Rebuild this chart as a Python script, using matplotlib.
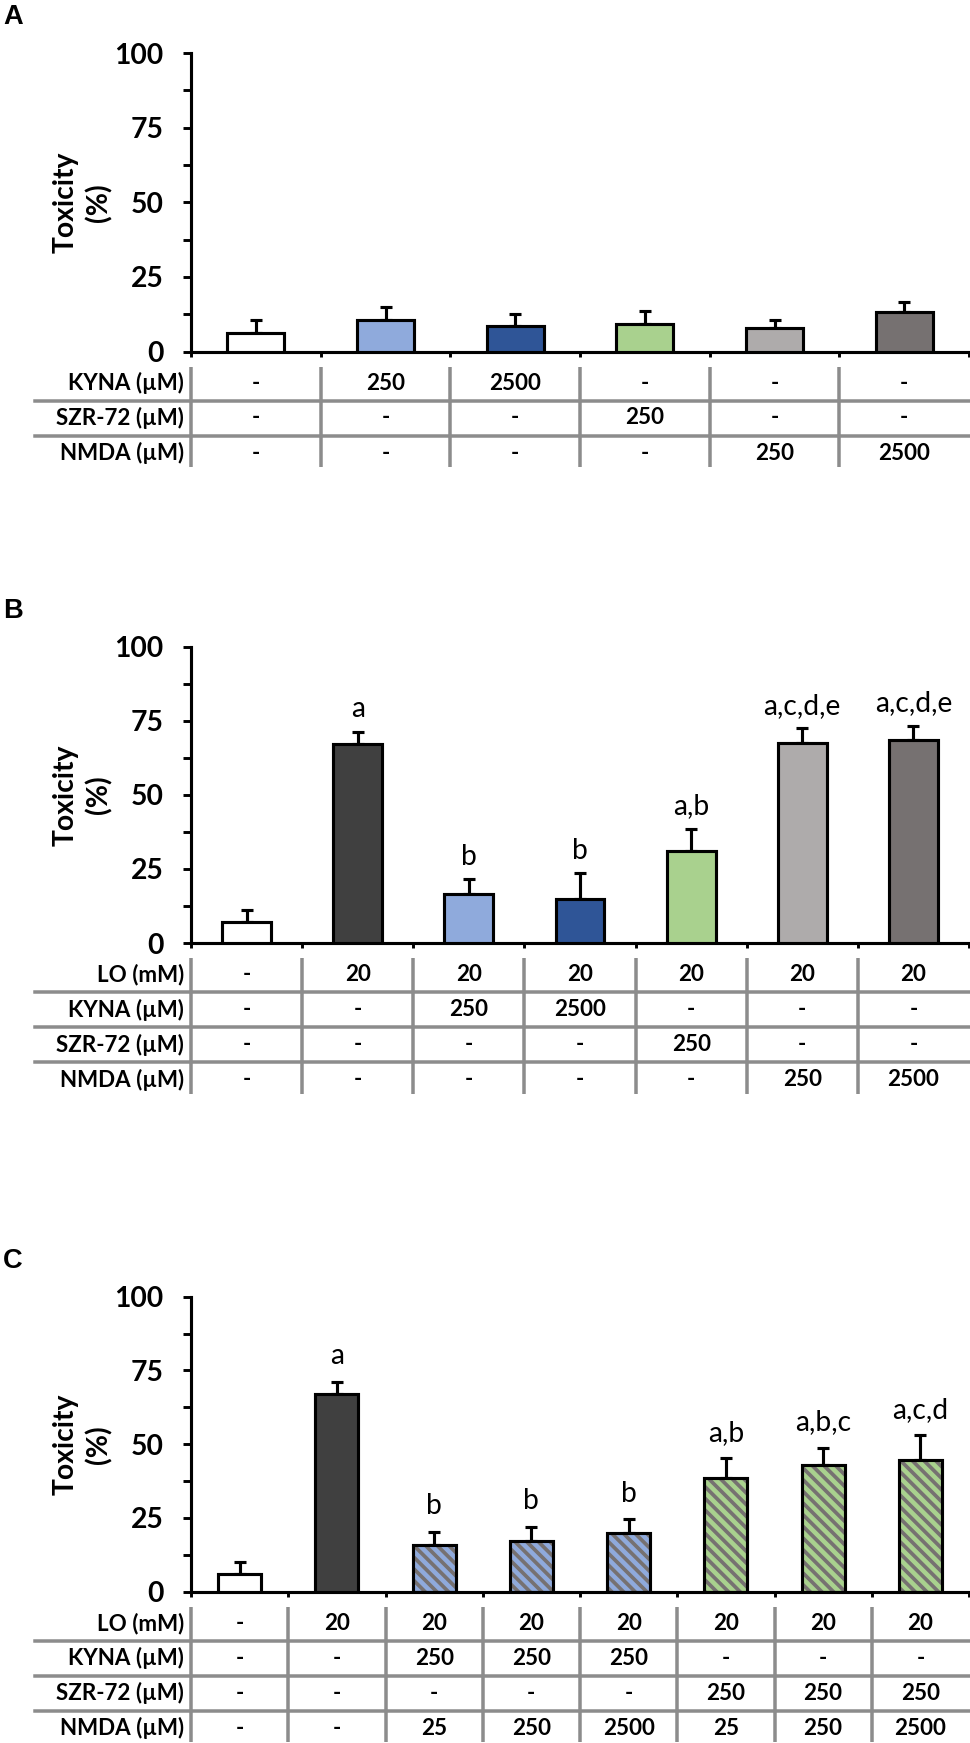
import matplotlib
matplotlib.use("Agg")
import matplotlib.pyplot as plt
import numpy as np
from matplotlib.transforms import blended_transform_factory

W, H, DPI = 970, 1743, 140

plt.rcParams["font.family"] = ["Lato", "DejaVu Sans"]
plt.rcParams["hatch.linewidth"] = 1.9

WHITE = "#FFFFFF"
LO_DARK = "#404040"
KYNA_LIGHT = "#8FAADC"
KYNA_DARK = "#2F5597"
SZR_GREEN = "#A9D18E"
NMDA_LIGHT = "#AEABAB"
NMDA_DARK = "#767171"
STRIPE = "#767171"
GRID_GREY = "#8C8C8C"

# ---- panel A ----
a_values = [6.3, 10.7, 8.7, 9.1, 7.8, 13.4]
a_errors = [4.4, 4.3, 3.8, 4.6, 2.8, 3.1]
a_colors = [WHITE, KYNA_LIGHT, KYNA_DARK, SZR_GREEN, NMDA_LIGHT, NMDA_DARK]
a_hatched = [False] * 6
a_letters = [""] * 6
a_row_labels = ["KYNA (µM)", "SZR-72 (µM)", "NMDA (µM)"]
a_kyna = ["-", "250", "2500", "-", "-", "-"]
a_szr = ["-", "-", "-", "250", "-", "-"]
a_nmda = ["-", "-", "-", "-", "250", "2500"]

# ---- panel B ----
b_values = [7.1, 67.1, 16.6, 14.9, 31.2, 67.4, 68.4]
b_errors = [4.0, 4.1, 4.9, 8.6, 7.3, 5.0, 4.9]
b_colors = [WHITE, LO_DARK, KYNA_LIGHT, KYNA_DARK, SZR_GREEN, NMDA_LIGHT, NMDA_DARK]
b_hatched = [False] * 7
b_letters = ["", "a", "b", "b", "a,b", "a,c,d,e", "a,c,d,e"]
b_row_labels = ["LO (mM)", "KYNA (µM)", "SZR-72 (µM)", "NMDA (µM)"]
b_lo = ["-", "20", "20", "20", "20", "20", "20"]
b_kyna = ["-", "-", "250", "2500", "-", "-", "-"]
b_szr = ["-", "-", "-", "-", "250", "-", "-"]
b_nmda = ["-", "-", "-", "-", "-", "250", "2500"]

# ---- panel C ----
c_values = [6.1, 66.9, 15.9, 17.3, 19.8, 38.6, 43.1, 44.8]
c_errors = [4.1, 4.3, 4.5, 4.8, 4.7, 6.7, 5.7, 8.2]
c_colors = [WHITE, LO_DARK, KYNA_LIGHT, KYNA_LIGHT, KYNA_LIGHT, SZR_GREEN, SZR_GREEN, SZR_GREEN]
c_hatched = [False, False, True, True, True, True, True, True]
c_letters = ["", "a", "b", "b", "b", "a,b", "a,b,c", "a,c,d"]
c_row_labels = ["LO (mM)", "KYNA (µM)", "SZR-72 (µM)", "NMDA (µM)"]
c_lo = ["-", "20", "20", "20", "20", "20", "20", "20"]
c_kyna = ["-", "-", "250", "250", "250", "-", "-", "-"]
c_szr = ["-", "-", "-", "-", "-", "250", "250", "250"]
c_nmda = ["-", "-", "25", "250", "2500", "25", "250", "2500"]

Y_TICKS = [0, 25, 50, 75, 100]
Y_MINOR = [12.5, 37.5, 62.5, 87.5]

ROW_H = 35.0
AX_LEFT, AX_RIGHT = 191, 969


def px_rect(left, top, right, bottom):
    return [left / W, 1 - bottom / H, (right - left) / W, (bottom - top) / H]


def draw_panel(fig, tag, top, bottom, values, errors, colors, hatched, letters,
               row_labels, rows, letter_pad):
    n = len(values)
    x = np.arange(n)

    ax = fig.add_axes(px_rect(AX_LEFT, top, AX_RIGHT, bottom))
    for xi, v, col, hat in zip(x, values, colors, hatched):
        if hat:
            ax.bar(xi, v, width=0.44, color=col, edgecolor=STRIPE, linewidth=0,
                   hatch="\\\\\\\\", zorder=2)
            ax.bar(xi, v, width=0.44, fill=False, edgecolor="black", linewidth=1.6, zorder=3)
        else:
            ax.bar(xi, v, width=0.44, color=col, edgecolor="black", linewidth=1.6, zorder=3)
    ax.errorbar(x, values, yerr=[np.zeros(n), errors], fmt="none", ecolor="black",
                elinewidth=1.6, capsize=3.2, capthick=1.6, zorder=1)

    for xi, v, e, lab in zip(x, values, errors, letters):
        if lab:
            ax.annotate(lab, (xi, v + e), xytext=(0, letter_pad), textcoords="offset points",
                        ha="center", va="baseline", fontsize=14.5)

    ax.set_xlim(-0.5, n - 0.5)
    ax.set_ylim(0, 100)
    ax.set_yticks(Y_TICKS, labels=[str(t) for t in Y_TICKS], fontsize=14.5, fontweight="bold")
    ax.set_yticks(Y_MINOR, minor=True)
    ax.set_xticks(np.arange(n + 1) - 0.5)
    ax.set_xticklabels([])
    ax.tick_params(axis="y", which="both", length=4.2, width=1.5, direction="out", pad=10)
    ax.tick_params(axis="x", length=2.8, width=1.5, direction="out")
    for side in ("top", "right"):
        ax.spines[side].set_visible(False)
    for side in ("left", "bottom"):
        ax.spines[side].set_linewidth(1.6)
    ax.set_ylabel("Toxicity\n(%)", fontsize=14.5, fontweight="bold", labelpad=1,
                  linespacing=1.3)

    fig.text(3 / W, 1 - (top - 29) / H, tag, fontsize=14, fontweight="bold",
             family=["Liberation Sans", "DejaVu Sans"], va="baseline", ha="left")

    # treatment table under the bars
    nrows = len(rows)
    t_top = bottom + 14
    tab = fig.add_axes(px_rect(AX_LEFT, t_top, AX_RIGHT, t_top + nrows * ROW_H))
    tab.set_xlim(-0.5, n - 0.5)
    tab.set_ylim(nrows, 0)
    tab.axis("off")
    tab.vlines(np.arange(n) - 0.5, 0.04, nrows - 0.1, colors=GRID_GREY, linewidth=1.8,
               clip_on=False)
    trans = blended_transform_factory(fig.transFigure, tab.transData)
    for r in range(1, nrows):
        tab.plot([35 / W, 1.0], [r, r], color=GRID_GREY, linewidth=1.8, transform=trans,
                 clip_on=False)
    for r, (label, cells) in enumerate(zip(row_labels, rows)):
        tab.annotate(label, (-0.5, r + 0.5), xytext=(-3.5, 0), textcoords="offset points",
                     ha="right", va="center", fontsize=11.5, fontweight="bold",
                     annotation_clip=False)
        for xi, cell in zip(x, cells):
            tab.text(xi, r + 0.5, cell, ha="center", va="center", fontsize=11.5,
                     fontweight="bold")
    return ax


fig = plt.figure(figsize=(W / DPI, H / DPI), dpi=DPI)

draw_panel(fig, "A", 53, 351.5, a_values, a_errors, a_colors, a_hatched, a_letters,
           a_row_labels, [a_kyna, a_szr, a_nmda], 7.5)
draw_panel(fig, "B", 646.7, 943, b_values, b_errors, b_colors, b_hatched, b_letters,
           b_row_labels, [b_lo, b_kyna, b_szr, b_nmda], 7.5)
draw_panel(fig, "C", 1296.7, 1591.7, c_values, c_errors, c_colors, c_hatched, c_letters,
           c_row_labels, [c_lo, c_kyna, c_szr, c_nmda], 9.0)

fig.savefig("out.png", dpi=DPI)
